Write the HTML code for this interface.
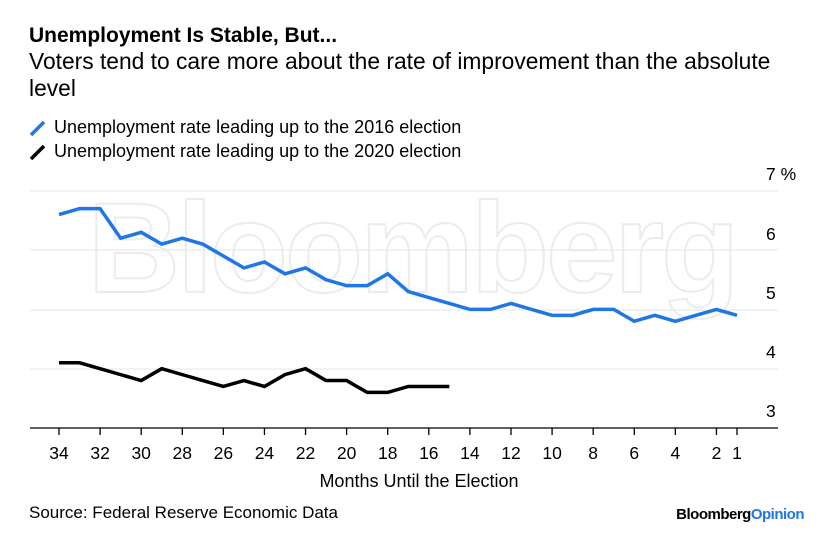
<!DOCTYPE html>
<html><head><meta charset="utf-8"><style>
body{margin:0;background:#fff;width:835px;height:545px;overflow:hidden;font-family:"Liberation Sans",sans-serif}
</style></head><body>
<svg width="835" height="545" xmlns="http://www.w3.org/2000/svg" font-family="Liberation Sans, sans-serif">
<text x="29" y="42" font-size="21" font-weight="bold" fill="#000">Unemployment Is Stable, But...</text>
<text x="29" y="69" font-size="22.8" fill="#000">Voters tend to care more about the rate of improvement than the absolute</text>
<text x="29" y="96" font-size="22.8" fill="#000">level</text>
<line x1="31" y1="135" x2="44" y2="122" stroke="#1f77e6" stroke-width="3.5"/>
<text x="54" y="133" font-size="18">Unemployment rate leading up to the 2016 election</text>
<line x1="31" y1="159" x2="44" y2="146" stroke="#000" stroke-width="3.5"/>
<text x="54" y="157" font-size="18">Unemployment rate leading up to the 2020 election</text>
<text x="412" y="292" font-size="128" font-weight="bold" text-anchor="middle" fill="none" stroke="#ececec" stroke-width="2" letter-spacing="-3">Bloomberg</text>
<g stroke="#e6e6e6" stroke-width="1">
<line x1="30" y1="191" x2="778" y2="191"/><line x1="30" y1="250" x2="778" y2="250"/>
<line x1="30" y1="310" x2="778" y2="310"/><line x1="30" y1="369" x2="778" y2="369"/>
</g>
<line x1="30" y1="428" x2="778" y2="428" stroke="#000" stroke-width="1.3"/>
<g font-size="17.5" fill="#000">
<text x="766" y="180">7 %</text><text x="766" y="240">6</text><text x="766" y="299">5</text><text x="766" y="358">4</text><text x="766" y="417">3</text>
</g>
<g id="ticks" stroke="#000" stroke-width="1.3"></g>
<g id="tl" font-size="17.5" text-anchor="middle"></g>
<text x="419" y="487" font-size="18" text-anchor="middle">Months Until the Election</text>
<text x="29" y="518" font-size="17">Source: Federal Reserve Economic Data</text>
<text x="804" y="519" font-size="15" font-weight="bold" text-anchor="end" letter-spacing="-0.5">Bloomberg<tspan fill="#1f77e6">Opinion</tspan></text>
<polyline id="b" fill="none" stroke="#1f77e6" stroke-width="3.5"/>
<polyline id="k" fill="none" stroke="#000" stroke-width="3.5"/>
</svg>
<script>
var X=m=>59+(34-m)*20.545, Y=v=>428-(v-3)*59.3;
var b=[6.6,6.7,6.7,6.2,6.3,6.1,6.2,6.1,5.9,5.7,5.8,5.6,5.7,5.5,5.4,5.4,5.6,5.3,5.2,5.1,5.0,5.0,5.1,5.0,4.9,4.9,5.0,5.0,4.8,4.9,4.8,4.9,5.0,4.9];
var k=[4.1,4.1,4.0,3.9,3.8,4.0,3.9,3.8,3.7,3.8,3.7,3.9,4.0,3.8,3.8,3.6,3.6,3.7,3.7,3.7];
document.getElementById('b').setAttribute('points',b.map((v,i)=>X(34-i)+','+Y(v)).join(' '));
document.getElementById('k').setAttribute('points',k.map((v,i)=>X(34-i)+','+Y(v)).join(' '));
var t='',l='',ms=[34,32,30,28,26,24,22,20,18,16,14,12,10,8,6,4,2,1];
ms.forEach(m=>{t+='<line x1="'+X(m)+'" y1="428" x2="'+X(m)+'" y2="435"/>';l+='<text x="'+X(m)+'" y="459">'+m+'</text>';});
document.getElementById('ticks').innerHTML=t;document.getElementById('tl').innerHTML=l;
</script>
</body></html>
